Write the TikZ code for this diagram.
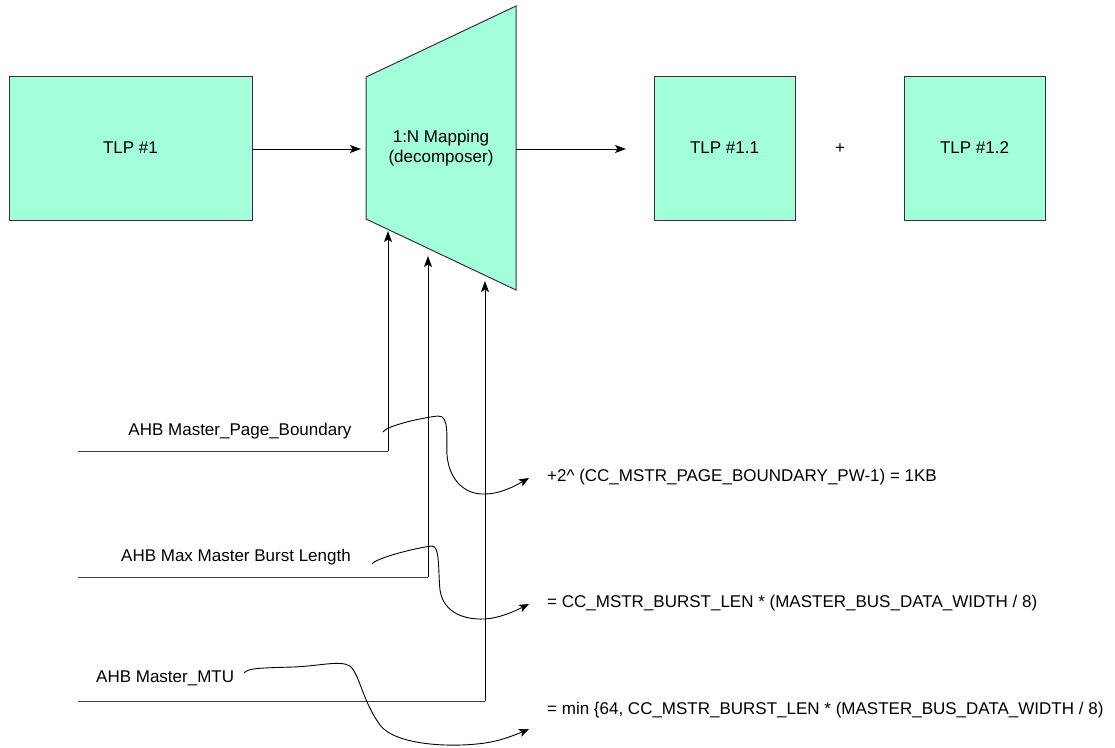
\documentclass[tikz,border=0pt]{standalone}
\usepackage{fontspec}
\setmainfont{Liberation Sans}
\usetikzlibrary{arrows.meta}
\definecolor{mint}{RGB}{163,255,217}
\tikzset{
  box/.style={draw=black!80, fill=mint, line width=1pt, inner sep=0pt, font=\fontsize{17}{20}\selectfont},
  lbl/.style={inner sep=0pt, font=\fontsize{17}{20}\selectfont},
  conn/.style={line width=1pt, -{Stealth[length=11pt,width=8pt,inset=2.5pt]}},
  wire/.style={line width=1pt, draw=black!75},
  curvy/.style={line width=0.9pt, -{Stealth[length=10pt,width=8pt,inset=2.5pt]}}
}
\begin{document}
\begin{tikzpicture}[x=1pt,y=-1pt]
\useasboundingbox (0,0) rectangle (1115,747);
% boxes
\node[box, minimum width=243pt, minimum height=144pt] (tlp1) at (130.5,148) {TLP \#1};
\node[box, minimum width=141pt, minimum height=144pt] (tlp11) at (724.5,148) {TLP \#1.1};
\node[box, minimum width=141pt, minimum height=144pt] (tlp12) at (974.5,148) {TLP \#1.2};
\node[lbl] (plus) at (840,149) {+};
% trapezoid (decomposer)
\coordinate (tl) at (366,77);
\coordinate (tr) at (516,6);
\coordinate (br) at (516,290);
\coordinate (bl) at (366,219);
\draw[box] (tl) -- (tr) -- (br) -- (bl) -- cycle;
\node[lbl, align=center] (map) at (441,148) {1:N Mapping\\(decomposer)};
\coordinate (mapin) at (361,149);
\coordinate (mapout) at (516,149);
\coordinate (outend) at (626,149);
\draw[conn] (tlp1.east |- mapin) -- (mapin);
\draw[conn] (mapout) -- (outend);
% parameter labels
\node[lbl] (p1) at (240,431) {AHB Master\_Page\_Boundary};
\node[lbl] (p2) at (236,557) {AHB Max Master Burst Length};
\node[lbl, anchor=west] (p3) at (96,678) {AHB Master\_MTU};
% formulas
\node[lbl, anchor=west] (f1) at (547,477) {+2\^{} (CC\_MSTR\_PAGE\_BOUNDARY\_PW-1) = 1KB};
\node[lbl, anchor=west] (f2) at (547,603) {= CC\_MSTR\_BURST\_LEN * (MASTER\_BUS\_DATA\_WIDTH / 8)};
\node[lbl, anchor=west] (f3) at (547,710) {= min \{64, CC\_MSTR\_BURST\_LEN * (MASTER\_BUS\_DATA\_WIDTH / 8)};
% wires into decomposer
\coordinate (w1s) at (78,451);  \coordinate (w1c) at (388,451); \coordinate (w1e) at (388,231);
\coordinate (w2s) at (78,577);  \coordinate (w2c) at (428,577); \coordinate (w2e) at (428,256);
\coordinate (w3s) at (78,701);  \coordinate (w3c) at (485,701); \coordinate (w3e) at (485,281);
\draw[wire] (w1s) -- (w1c);
\draw[wire] (w2s) -- (w2c);
\draw[wire] (w3s) -- (w3c);
\draw[conn] (w1c) -- (w1e);
\draw[conn] (w2c) -- (w2e);
\draw[conn] (w3c) -- (w3e);
% curved connectors
\coordinate (c1s) at (383,432); \coordinate (c1e) at (529,478);
\coordinate (c2s) at (372,564); \coordinate (c2e) at (529,604);
\coordinate (c3s) at (244,673); \coordinate (c3e) at (529,729);
\draw[curvy] (c1s) .. controls (386,426) and (420,418) .. (438,416)
  .. controls (450,415) and (446,440) .. (447,455)
  .. controls (449,480) and (465,495) .. (485,494)
  .. controls (500,494) and (515,486) .. (c1e);
\draw[curvy] (c2s) .. controls (376,558) and (415,548) .. (432,546)
  .. controls (440,546) and (438,570) .. (440,590)
  .. controls (443,610) and (460,620) .. (485,619)
  .. controls (500,618) and (515,611) .. (c2e);
\draw[curvy] (c3s) .. controls (248,668) and (260,668) .. (293,667)
  .. controls (320,666) and (340,660) .. (350,666)
  .. controls (360,675) and (362,700) .. (380,725)
  .. controls (395,745) and (450,748) .. (485,743)
  .. controls (500,741) and (515,735) .. (c3e);
\end{tikzpicture}
\end{document}
